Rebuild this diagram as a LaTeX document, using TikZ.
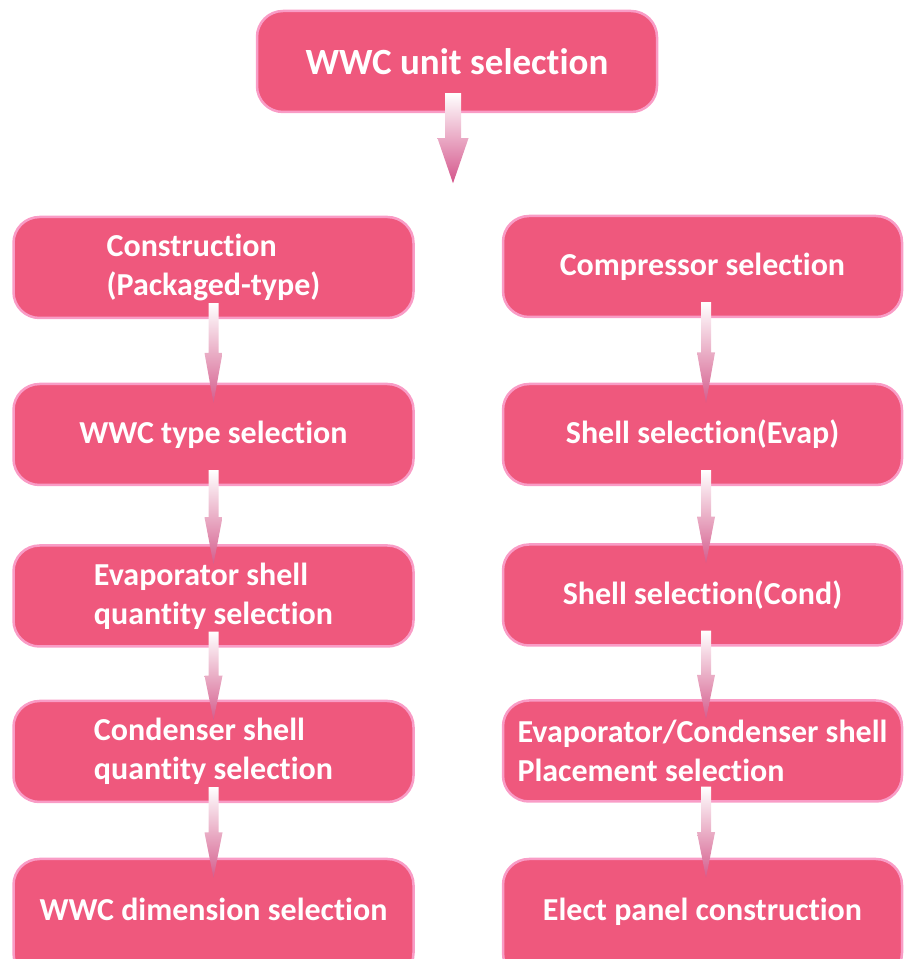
\documentclass[tikz,border=0pt]{standalone}
\usepackage{fontspec}
\setmainfont{Carlito}[Ligatures=NoCommon]
\usetikzlibrary{calc}
\definecolor{boxfill}{HTML}{EF587D}
\definecolor{boxline}{HTML}{F99CC6}
\definecolor{arrowc}{HTML}{D45C8C}
\definecolor{arrowtop}{HTML}{D4548A}
\tikzset{
  box/.style={draw=boxline, fill=boxfill, line width=2.5pt, rounded corners=26pt,
    text=white, font=\fontsize{32}{39}\selectfont\bfseries, align=left,
    minimum height=101pt, inner sep=0pt},
  leftbox/.style={box, minimum width=400pt},
  rightbox/.style={box, minimum width=399pt},
  lastbox/.style={minimum height=120pt, text height=22pt, text depth=18pt},
  flowshade/.style={top color=white, bottom color=arrowc},
}
\newcommand\flowarrow[4]{%
  \path[flowshade] let \p1=($(#1.south)+(#4,16)$), \p2=($(#2.north)+(0,-20)$),
    \n1={(\y1+\y2)/2} in
    (\x1-#3,\y1) -- (\x1+#3,\y1) -- (\x1+#3,\n1) -- (\x1+9,\n1) -- (\x1,\y2)
    -- (\x1-9,\n1) -- (\x1-#3,\n1) -- cycle;}
\begin{document}
\begin{tikzpicture}[x=1pt,y=1pt]
\useasboundingbox (0,0) rectangle (904,959);
\node[box, minimum width=400pt, font=\fontsize{37}{44}\selectfont\bfseries] (top) at (457,897.5) {WWC unit selection};
% left column
\node[leftbox] (l1) at (213.5,691.5) {Construction\\(Packaged-type)};
\node[leftbox] (l2) at (213.5,524.5) {WWC type selection};
\node[leftbox] (l3) at (213.5,363) {Evaporator shell\\quantity selection};
\node[leftbox] (l4) at (213.5,207.5) {Condenser shell\\quantity selection};
\node[leftbox, lastbox] (l5) at (213.5,40) {WWC dimension selection};
% right column
\node[rightbox] (r1) at (702.5,692.5) {Compressor selection};
\node[rightbox] (r2) at (702.5,524.5) {Shell selection(Evap)};
\node[rightbox] (r3) at (702.5,364) {Shell selection(Cond)};
\node[rightbox] (r4) at (702.5,208) {Evaporator/Condenser shell\\Placement selection};
\node[rightbox, lastbox] (r5) at (702.5,40) {Elect panel construction};
% top arrow
\coordinate (toptip) at ($(top.south)+(-4,-70)$);
\path[top color=white, bottom color=arrowtop] let \p1=($(top.south)+(-4,20)$), \p2=(toptip) in
  (\x1-8,\y1) -- (\x1+8,\y1) -- (\x1+8,\y2+45) -- (\x1+15.5,\y2+45) -- (\x1,\y2)
  -- (\x1-15.5,\y2+45) -- (\x1-8,\y2+45) -- cycle;
% column arrows
\flowarrow{l1}{l2}{5}{0}
\flowarrow{l2}{l3}{5}{0}
\flowarrow{l3}{l4}{5}{0}
\flowarrow{l4}{l5}{5}{0}
\flowarrow{r1}{r2}{5}{3.5}
\flowarrow{r2}{r3}{5}{3.5}
\flowarrow{r3}{r4}{5}{3.5}
\flowarrow{r4}{r5}{5}{3.5}
\end{tikzpicture}
\end{document}
